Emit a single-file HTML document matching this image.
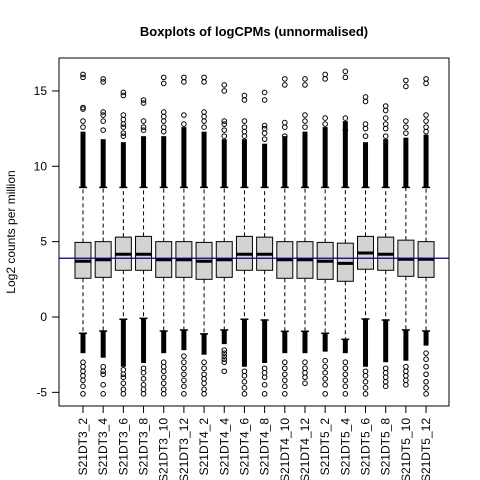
<!DOCTYPE html>
<html><head><meta charset="utf-8"><style>
body{margin:0;background:#fff}
svg{display:block;font-family:"Liberation Sans",Arial,sans-serif}
</style></head><body>
<svg id="chart" width="480" height="480" viewBox="0 0 480 480">
<rect width="480" height="480" fill="#fff"/>
<text x="254" y="36" text-anchor="middle" font-size="13" font-weight="bold">Boxplots of logCPMs (unnormalised)</text>
<text transform="translate(15,232) rotate(-90)" text-anchor="middle" font-size="12">Log2 counts per million</text>
<g id="marks"></g>
<rect x="59" y="58" width="390" height="348" fill="none" stroke="#000" stroke-width="1"/>
</svg>
<script>
const categories=["S21DT3_2","S21DT3_4","S21DT3_6","S21DT3_8","S21DT3_10","S21DT3_12","S21DT4_2","S21DT4_4","S21DT4_6","S21DT4_8","S21DT4_10","S21DT4_12","S21DT5_2","S21DT5_4","S21DT5_6","S21DT5_8","S21DT5_10","S21DT5_12"];
const q1=[2.57,2.63,3.1,3.1,2.63,2.63,2.5,2.63,3.1,3.1,2.57,2.57,2.5,2.37,3.17,3.1,2.7,2.63];
const medians=[3.7,3.8,4.16,4.16,3.8,3.8,3.7,3.8,4.16,4.16,3.8,3.8,3.7,3.56,4.25,4.16,3.83,3.83];
const q3=[4.95,5.0,5.3,5.35,5.0,5.0,4.95,5.0,5.35,5.3,5.0,5.0,4.95,4.9,5.35,5.3,5.1,5.0];
const upperWhisker=[8.6,8.6,8.6,8.6,8.6,8.6,8.6,8.6,8.6,8.6,8.6,8.6,8.6,8.6,8.6,8.6,8.6,8.6];
const lowerWhisker=[-1.08,-0.93,-0.15,-0.09,-0.93,-0.86,-1.12,-0.86,-0.15,-0.2,-0.95,-0.95,-1.08,-1.48,-0.13,-0.2,-0.86,-0.93];
const upperDense=[12.3,11.8,11.6,12.0,12.0,12.6,12.3,11.8,11.8,11.5,12.0,12.3,12.6,13.0,11.6,11.8,11.9,12.1];
const lowerDense=[-2.4,-2.7,-3.3,-3.05,-2.4,-2.2,-2.5,-1.8,-3.3,-3.05,-2.4,-2.4,-2.3,-2.4,-3.3,-3.0,-2.9,-1.9];
const upperOutliers=[[16.1,15.9,13.9,13.8,13.0,12.6],[15.8,15.6,13.6,13.4,13.0,12.4],[14.9,14.7,13.4,13.1,12.8,12.6,12.2,12.0],[14.4,14.2,13.0,12.6,12.4],[15.9,15.5,13.6,13.3,13.0,12.6,12.3],[15.9,15.6,13.4,12.8],[15.9,15.6,13.6,13.3,13.0,12.6],[15.4,15.0,13.0,12.8,12.4,12.0],[14.7,14.4,13.0,12.6,12.3,12.0],[14.9,14.4,12.7,12.5,12.2,11.8],[15.8,15.4,12.9,12.6,12.0],[15.8,15.4,13.4,13.0,12.6],[16.1,15.8,13.2,12.8],[16.3,15.9,13.2,12.4],[14.6,14.3,12.8,12.5,12.0],[14.0,13.7,13.2,12.8,12.5,12.0],[15.7,15.3,13.0,12.6,12.2],[15.8,15.5,13.4,13.0,12.6,12.3]];
const lowerOutliers=[[-3.0,-3.3,-3.6,-3.9,-4.2,-4.6,-5.1],[-3.3,-3.6,-3.8,-4.5,-5.1],[-3.5,-3.8,-4.0,-4.4,-4.8,-5.1],[-3.4,-3.7,-4.1,-4.5,-4.8,-5.1],[-3.0,-3.3,-3.6,-4.0,-4.4,-4.8,-5.1],[-2.6,-3.0,-3.4,-3.8,-4.2,-4.6,-5.1],[-3.0,-3.4,-3.8,-4.1,-4.4,-4.8,-5.1],[-2.2,-2.4,-2.6,-2.8,-3.0,-3.6],[-3.6,-3.9,-4.3,-4.7,-5.1],[-3.4,-3.7,-4.0,-4.5,-5.1],[-3.0,-3.4,-3.8,-4.2,-4.6,-5.1],[-3.0,-3.4,-3.7,-4.0,-4.4],[-2.9,-3.3,-3.7,-4.1,-4.5,-5.1],[-3.0,-3.4,-3.8,-4.2,-4.6,-5.1],[-3.6,-3.9,-4.3,-4.7,-5.1],[-3.4,-3.7,-4.0,-4.3,-4.6],[-3.3,-3.6,-3.9,-4.2,-4.5],[-2.4,-2.8,-3.3,-3.8,-4.3,-4.7,-5.1]];
const yTicks=[-5,0,5,10,15];
const refLine=3.9;

const NS="http://www.w3.org/2000/svg";
const g=document.getElementById("marks");
const y=v=>317-15.07*v;
const x=i=>83+i*20.18;
function el(t,a){const e=document.createElementNS(NS,t);for(const k in a)e.setAttribute(k,a[k]);g.appendChild(e);return e;}

yTicks.forEach(t=>{
  const l=el("line",{x1:52,x2:59,y1:y(t),y2:y(t),stroke:"#000"});
  
  
  const tx=el("text",{x:47,y:y(t)+4,"text-anchor":"end","font-size":"12"});
  tx.textContent=t;
  
  
});

categories.forEach((c,i)=>{
  const cx=x(i),hw=8;
  const wu=el("line",{x1:cx,x2:cx,y1:y(q3[i]),y2:y(upperWhisker[i]),stroke:"#000","stroke-dasharray":"4,3"});
  
  
  const wl=el("line",{x1:cx,x2:cx,y1:y(q1[i]),y2:y(lowerWhisker[i]),stroke:"#000","stroke-dasharray":"4,3"});
  
  
  [upperWhisker[i],lowerWhisker[i]].forEach(v=>{
    const s=el("line",{x1:cx-4,x2:cx+4,y1:y(v),y2:y(v),stroke:"#000","stroke-width":"1.5"});
    
    
  });
  const du=el("rect",{x:cx-2.5,y:y(upperDense[i]),width:5,height:y(upperWhisker[i])-y(upperDense[i]),fill:"#000"});
  
  
  const dl=el("rect",{x:cx-2.5,y:y(lowerWhisker[i]),width:5,height:y(lowerDense[i])-y(lowerWhisker[i]),fill:"#000"});
  
  
  upperOutliers[i].concat(lowerOutliers[i]).forEach(v=>{
    const o=el("circle",{cx:cx,cy:y(v),r:2.3,fill:"none",stroke:"#000","stroke-width":"1"});
    
    
  });
  const b=el("rect",{x:cx-hw,y:y(q3[i]),width:hw*2,height:y(q1[i])-y(q3[i]),fill:"#d3d3d3",stroke:"#000","stroke-width":"1"});
  
  
  const m=el("line",{x1:cx-hw,x2:cx+hw,y1:y(medians[i]),y2:y(medians[i]),stroke:"#000","stroke-width":"3"});
  
  
  const tk=el("line",{x1:cx,x2:cx,y1:406,y2:413,stroke:"#000"});
  
  
  const lb=el("text",{transform:`translate(${cx+4},418) rotate(-90)`,"text-anchor":"end","font-size":"12"});
  lb.textContent=c;
  
  
});

const rl=el("line",{x1:59,x2:449,y1:y(refLine),y2:y(refLine),stroke:"#00008b","stroke-width":"1.2"});


</script>
</body></html>
